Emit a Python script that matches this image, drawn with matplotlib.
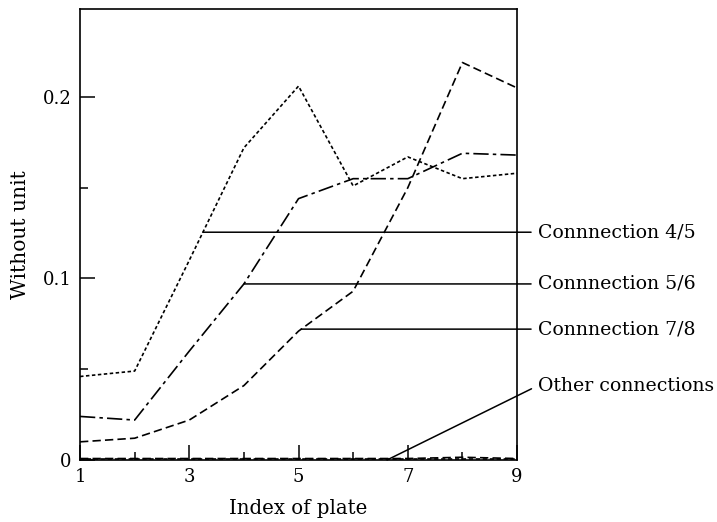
import numpy as np
import matplotlib.pyplot as plt
from matplotlib.ticker import FixedLocator

plt.rcParams['font.family'] = ['DejaVu Serif']
plt.rcParams['lines.scale_dashes'] = False

plates = [1, 2, 3, 4, 5, 6, 7, 8, 9]
conn_45 = [0.046, 0.049, 0.110, 0.172, 0.206, 0.151, 0.167, 0.155, 0.158]
conn_56 = [0.024, 0.022, 0.060, 0.097, 0.144, 0.155, 0.155, 0.169, 0.168]
conn_78 = [0.010, 0.012, 0.022, 0.041, 0.071, 0.093, 0.150, 0.219, 0.205]
other_a = [0.0008, 0.0008, 0.0008, 0.0008, 0.0008, 0.0008, 0.0008, 0.0015, 0.0008]
other_b = [0.0003, 0.0003, 0.0003, 0.0003, 0.0003, 0.0003, 0.0003, 0.0003, 0.0003]

labels = ['Connnection 4/5', 'Connnection 5/6', 'Connnection 7/8', 'Other connections']


def label_line(ax, x0, y0, ytext, text, xtext=1.048):
    # leader line from a point on the curve out to the text right of the axes
    ax.annotate(text, xy=(x0, y0), xycoords='data',
                xytext=(xtext, ytext), textcoords=('axes fraction', 'data'),
                va='center', ha='left', fontsize=13.6,
                arrowprops=dict(arrowstyle='-', lw=1.1, color='black',
                                shrinkA=3, shrinkB=0, relpos=(0, 0.5)),
                annotation_clip=False)


fig = plt.figure(figsize=(7.17, 5.22), dpi=100)
ax = fig.add_axes([0.1116, 0.1188, 0.6095, 0.8640])

ax.plot(plates, conn_45, color='black', lw=1.2, dashes=(2.5, 1.8))
ax.plot(plates, conn_56, color='black', lw=1.2, dashes=(11, 3, 2.5, 3))
ax.plot(plates, conn_78, color='black', lw=1.2, dashes=(6, 3))
ax.plot(plates, other_a, color='black', lw=1.2, dashes=(6, 3))
ax.plot(plates, other_b, color='black', lw=1.2, dashes=(3, 2))

ax.set_xlim(1, 9)
ax.set_ylim(0, 0.2485)

ax.xaxis.set_major_locator(FixedLocator([1, 3, 5, 7, 9]))
ax.xaxis.set_minor_locator(FixedLocator([2, 4, 6, 8]))
ax.yaxis.set_major_locator(FixedLocator([0, 0.1, 0.2]))
ax.yaxis.set_minor_locator(FixedLocator([0.05, 0.15]))
ax.set_yticklabels(['0', '0.1', '0.2'])
ax.tick_params(which='major', direction='in', length=11, width=1.1,
               labelsize=13, pad=6)
ax.tick_params(which='minor', direction='in', length=6, width=1.1)
ax.tick_params(top=False, right=False, which='both')
for s in ax.spines.values():
    s.set_linewidth(1.2)

ax.set_xlabel('Index of plate', fontsize=14.2, labelpad=9)
ax.set_ylabel('Without unit', fontsize=14.6, labelpad=9)

y45 = np.interp(3.25, plates, conn_45)
y56 = np.interp(4.0, plates, conn_56)
y78 = np.interp(5.05, plates, conn_78)
label_line(ax, 3.25, y45, y45, labels[0])
label_line(ax, 4.0, y56, y56, labels[1])
label_line(ax, 5.05, y78, y78, labels[2])
label_line(ax, 6.62, 0.0, 0.041, labels[3], xtext=1.048)

fig.savefig('out.png', dpi=100)
